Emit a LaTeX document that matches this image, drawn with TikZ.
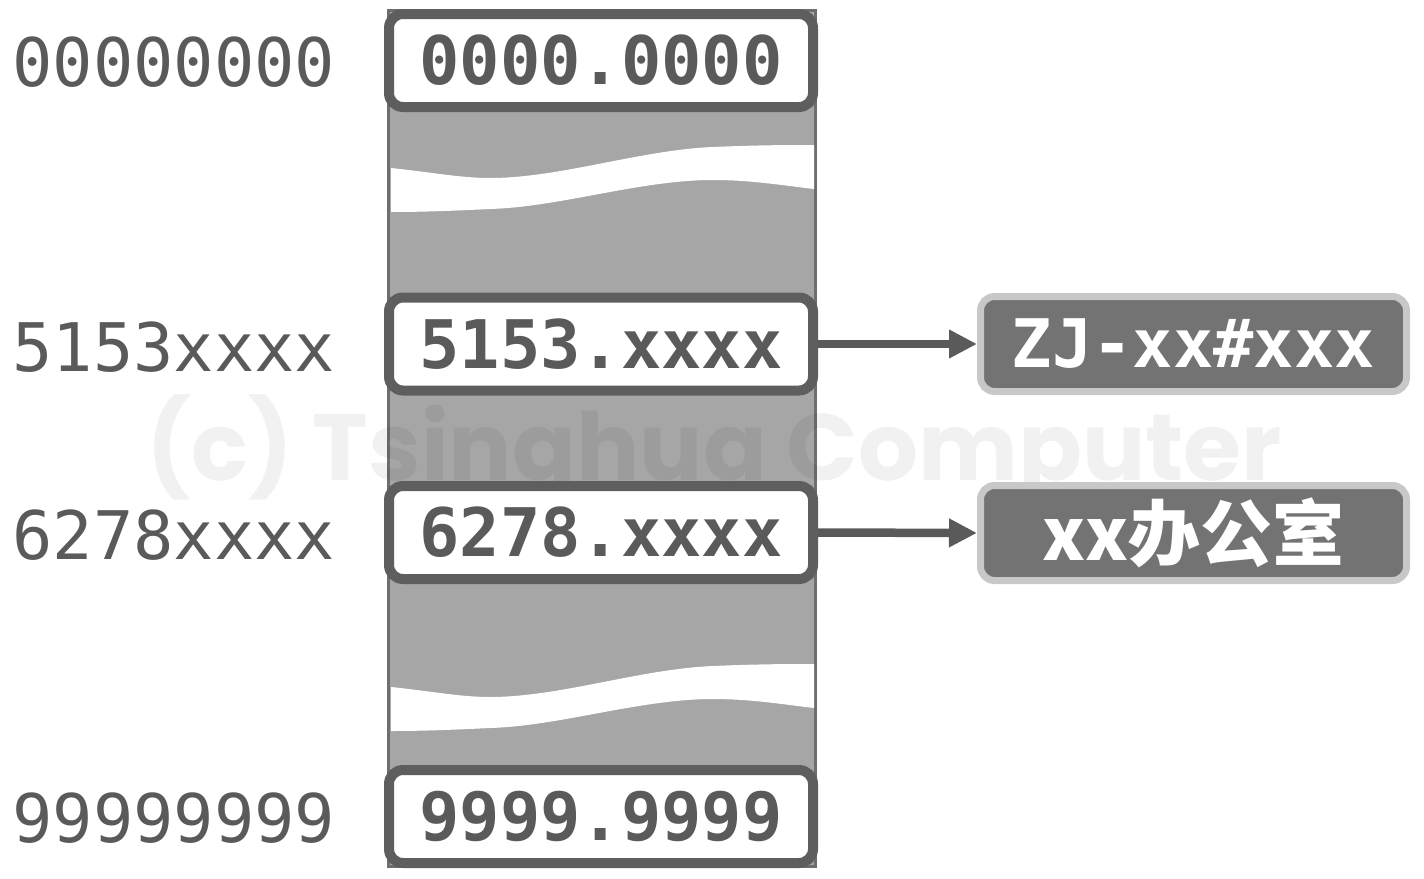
\documentclass[tikz,border=0pt]{standalone}
\usepackage{fontspec}
\setmonofont{DejaVu Sans Mono}
\newfontfamily\cjkf{Noto Sans CJK SC}
\newfontfamily\wmf{Poppins}
\usetikzlibrary{arrows.meta}
\definecolor{colfill}{RGB}{166,166,166}
\definecolor{coledge}{RGB}{110,110,110}
\definecolor{boxdraw}{RGB}{94,94,94}
\definecolor{txt}{RGB}{90,90,90}
\definecolor{rfill}{RGB}{115,115,115}
\definecolor{rdraw}{RGB}{200,200,200}
\begin{document}
\begin{tikzpicture}[x=1pt,y=-1pt,
  membox/.style={draw=boxdraw, fill=white, line width=10pt, rounded corners=14pt,
    minimum width=424pt, minimum height=93pt, inner sep=0pt, text=txt,
    font=\ttfamily\bfseries\fontsize{67}{80}\selectfont},
  addr/.style={text=txt, inner sep=0pt, font=\ttfamily\fontsize{67}{80}\selectfont},
  namebox/.style={draw=rdraw, fill=rfill, line width=7pt, rounded corners=14pt,
    minimum width=426pt, minimum height=95pt, inner sep=0pt, text=white},
  link/.style={draw=txt, line width=8.5pt, -{Triangle[length=28pt,width=27pt]}},
  band/.style={fill=white, draw=none}]
\useasboundingbox (0,0) rectangle (1424,878);
% column
\draw[draw=coledge, fill=colfill, line width=3pt] (388.5,10) rectangle (815.5,866);
% white gap bands
\foreach \dy in {0,519}{
  \begin{scope}[shift={(0,\dy)}]
    \fill[band] (391,168) .. controls (430,172) and (460,178) .. (490,178)
      .. controls (560,178) and (640,150) .. (713,147)
      .. controls (760,145) and (790,145) .. (814,145)
      -- (814,189) .. controls (780,185) and (750,180) .. (713,180)
      .. controls (640,180) and (560,207) .. (490,209)
      .. controls (450,211) and (420,212) .. (391,212) -- cycle;
  \end{scope}
}
% watermark
\node[anchor=base west, inner sep=0pt, text=black, text opacity=0.055] (wm) at (146,480)
  {\resizebox{1136pt}{!}{\wmf\bfseries\fontsize{107}{120}\selectfont (c) Tsinghua Computer}};
% memory boxes
\node[membox] (b0) at (601,60.5) {0000.0000};
\node[membox] (b1) at (601,344) {5153.xxxx};
\node[membox] (b2) at (601,532.5) {6278.xxxx};
\node[membox] (b3) at (601,816.5) {9999.9999};
% address labels
\node[addr] (a0) at (174,62) {00000000};
\node[addr] (a1) at (174,347) {5153xxxx};
\node[addr] (a2) at (174,535) {6278xxxx};
\node[addr] (a3) at (174,818) {99999999};
% name boxes
\node[namebox, font=\ttfamily\bfseries\fontsize{67}{80}\selectfont] (n1) at (1193.5,344) {ZJ-xx\#xxx};
\node[namebox, font=\cjkf\bfseries\fontsize{72}{80}\selectfont] (n2) at (1193.5,533) {xx办公室};
% connectors
\draw[link] (b1.east) -- (n1.west);
\draw[link] (b2.east) -- (n2.west);
\end{tikzpicture}
\end{document}
